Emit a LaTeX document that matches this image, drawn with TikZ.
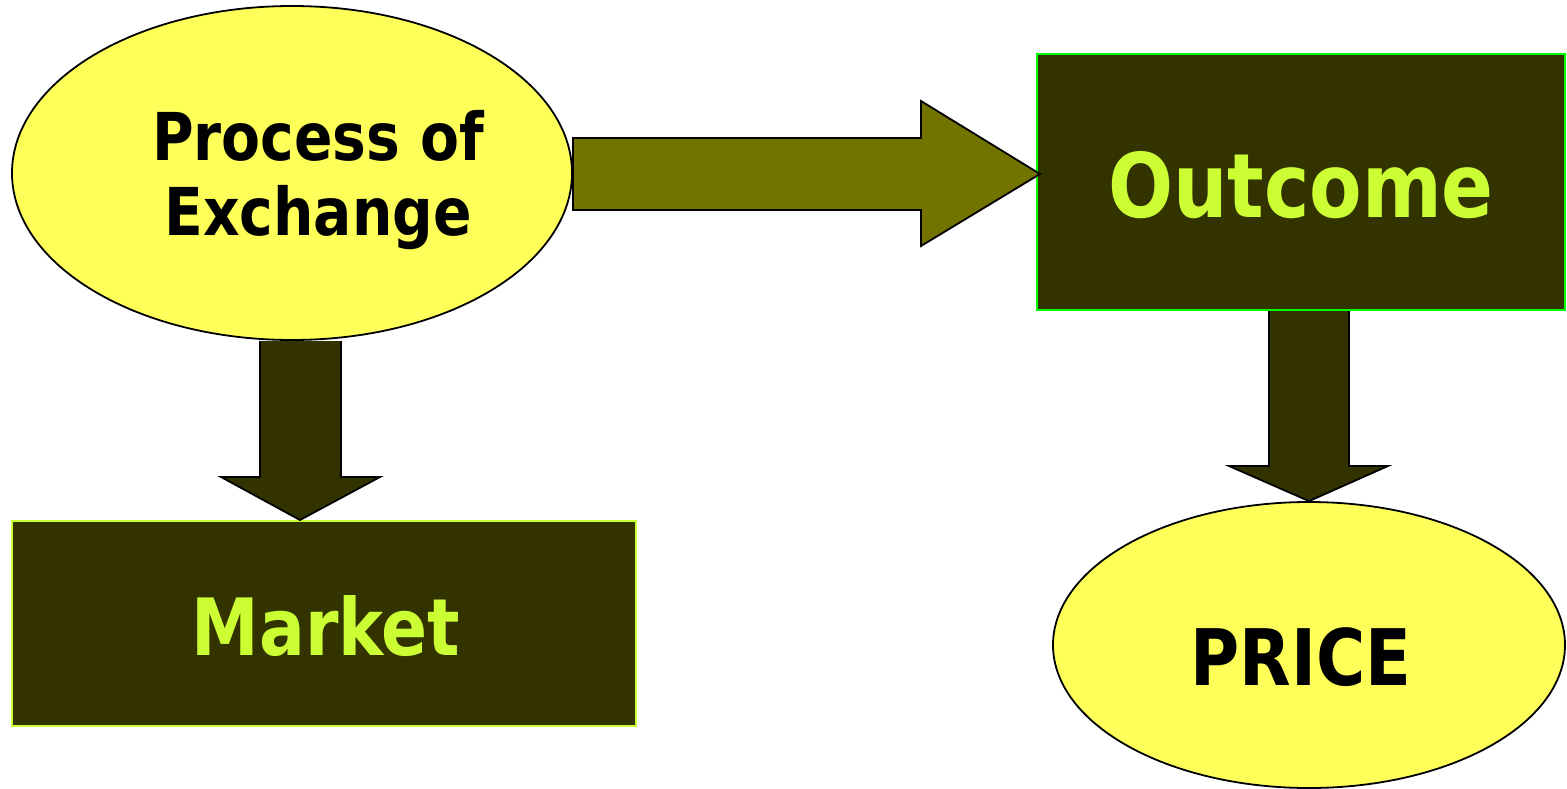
\documentclass[tikz,border=0pt]{standalone}
\usepackage{fontspec}
\setmainfont{DejaVu Sans}[FakeStretch=0.86]
\usetikzlibrary{calc,shapes.geometric}
\definecolor{ylw}{HTML}{FFFF59}
\definecolor{dolive}{HTML}{333300}
\definecolor{olive2}{HTML}{737300}
\definecolor{lime}{HTML}{CCFF33}
\definecolor{bgreen}{HTML}{00FF00}
\tikzset{
  ell/.style={ellipse, draw=black, line width=1.8pt, fill=ylw, inner sep=0pt},
  box/.style={rectangle, fill=dolive, line width=2pt, inner sep=0pt},
  blk/.style={draw=black, line width=1.8pt, line join=miter},
  lbl/.style={inner sep=0pt, font=\bfseries},
}
\begin{document}
\begin{tikzpicture}[x=1pt,y=-1pt]
\useasboundingbox (0,0) rectangle (1567,788);
% shapes
\node[ell, minimum width=560pt, minimum height=334pt] (pe) at (292,173) {};
\node[box, draw=bgreen, minimum width=528pt, minimum height=256pt] (out) at (1301,182) {};
\node[box, draw=lime, minimum width=624pt, minimum height=205pt] (mk) at (324,623.5) {};
\node[ell, minimum width=512pt, minimum height=286pt] (pr) at (1309,645) {};
% block arrows
\draw[blk, fill=olive2] (pe.east |- 0,138) -- (921,138) -- (921,101) -- (1040,174)
  -- (921,246) -- (921,210) -- (pe.east |- 0,210) -- cycle;
\draw[blk, fill=dolive] (260,341) -- (260,477) -- (221,477) -- (mk.north -| 300,0)
  -- (380,477) -- (341,477) -- (341,341);
\draw[blk, fill=dolive] (out.south -| 1269,0) -- (1269,466) -- (1229,466) -- (pr.north -| 1309,0)
  -- (1388,466) -- (1349,466) -- (out.south -| 1349,0);
% texts
\node[lbl, align=center, font=\bfseries\fontsize{66}{75}\selectfont, anchor=base] (t1) at (318,235) {Process of\\Exchange};
\node[lbl, text=lime, font=\bfseries\fontsize{89}{100}\selectfont, anchor=base] (t2) at (1301,217) {Outcome};
\node[lbl, text=lime, font=\bfseries\fontsize{79}{90}\selectfont, anchor=base] (t3) at (326,655) {Market};
\node[lbl, font=\bfseries\fontsize{78}{90}\selectfont, anchor=base] (t4) at (1301,685) {PRICE};
\end{tikzpicture}
\end{document}
